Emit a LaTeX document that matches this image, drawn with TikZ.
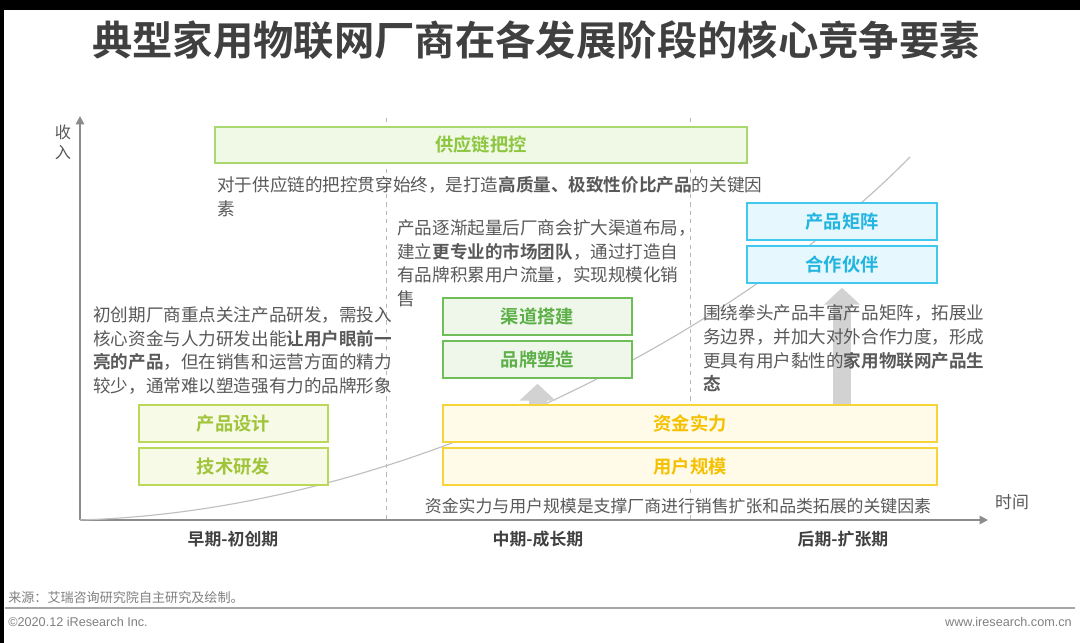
\documentclass[tikz,border=0pt]{standalone}
\usepackage{fontspec}
\setmainfont{Noto Sans CJK SC}[BoldFont={Noto Sans CJK SC Bold}]
\newfontfamily\latinfont{Liberation Sans}
\usetikzlibrary{arrows.meta, positioning, calc}
\definecolor{titlegray}{RGB}{64,64,64}
\definecolor{bodygray}{RGB}{89,89,89}
\definecolor{axisgray}{RGB}{140,140,140}
\definecolor{liftgray}{RGB}{210,210,210}
\definecolor{limeline}{RGB}{168,216,110}
\definecolor{limesoft}{RGB}{240,248,230}
\definecolor{limetext}{RGB}{141,198,63}
\definecolor{leafline}{RGB}{112,190,90}
\definecolor{leafsoft}{RGB}{238,247,234}
\definecolor{leaftext}{RGB}{93,175,72}
\definecolor{oliveline}{RGB}{188,216,90}
\definecolor{olivesoft}{RGB}{246,250,230}
\definecolor{olivetext}{RGB}{160,196,58}
\definecolor{goldline}{RGB}{247,212,58}
\definecolor{goldsoft}{RGB}{255,251,232}
\definecolor{goldtext}{RGB}{245,192,0}
\definecolor{skyline}{RGB}{64,200,238}
\definecolor{skysoft}{RGB}{230,247,253}
\definecolor{skytext}{RGB}{34,181,224}

\begin{document}
\begin{tikzpicture}[x=0.025cm, y=-0.025cm,
  box/.style={rectangle, line width=1.1pt, align=center, inner sep=0pt,
              font=\fontsize{13}{15}\selectfont\bfseries, minimum height=0.925cm},
  limebox/.style={box, draw=limeline, fill=limesoft, text=limetext},
  leafbox/.style={box, draw=leafline, fill=leafsoft, text=leaftext, minimum width=4.725cm},
  olivebox/.style={box, draw=oliveline, fill=olivesoft, text=olivetext, minimum width=4.725cm},
  goldbox/.style={box, draw=goldline, fill=goldsoft, text=goldtext, minimum width=12.35cm},
  skybox/.style={box, draw=skyline, fill=skysoft, text=skytext, minimum width=4.75cm},
  note/.style={anchor=north west, align=left, inner sep=0pt, text=bodygray,
               font=\fontsize{12.5}{17}\selectfont},
  stage/.style={font=\fontsize{12}{14}\selectfont\bfseries, text=titlegray},
  lift/.style={draw=liftgray, line width=0.45cm,
               -{Triangle[length=0.42cm, width=0.88cm]}},
  axis/.style={draw=axisgray, line width=1.3pt, -{Triangle[length=6pt, width=6pt]}},
  divider/.style={draw=gray!55, dashed, line width=0.6pt}
]
  \useasboundingbox (0,0) rectangle (1080,643);
  \fill[white] (0,0) rectangle (1080,643);
  \fill[black] (0,0) rectangle (1080,10);
  \fill[black] (0,0) rectangle (4,643);

  % Title
  \node[font=\fontsize{28.7}{32}\selectfont\bfseries, text=titlegray] (title)
    at (536,40) {典型家用物联网厂商在各发展阶段的核心竞争要素};

  % Axes and stage dividers
  \coordinate (o) at (80,520);
  \coordinate (ytop) at (80,116);
  \coordinate (xend) at (988,520);
  \draw[divider] (386,118) -- (386,520);
  \draw[divider] (690,118) -- (690,520);
  \draw[axis] (o) -- (ytop);
  \draw[axis] (o) -- (xend);
  \node[font=\fontsize{11.5}{14}\selectfont, text=bodygray, align=center] (yname)
    at (63,142) {收\\入};
  \node[font=\fontsize{12}{14}\selectfont, text=bodygray] (xname) at (1012,502) {时间};

  % Revenue curve
  \draw[gray!50, line width=0.8pt] (o) .. controls (420,510) and (750,320) .. (910,157);

  % Boxes
  \node[limebox, minimum width=13.3cm, minimum height=0.9cm] (supply) at (481,145) {供应链把控};
  \node[olivebox] (design) at (233.5,423.5) {产品设计};
  \node[olivebox] (research) at (233.5,466.5) {技术研发};
  \node[leafbox] (channel) at (537.5,316.5) {渠道搭建};
  \node[leafbox] (brand) at (537.5,359.5) {品牌塑造};
  \node[goldbox] (fund) at (690,423.5) {资金实力};
  \node[goldbox] (users) at (690,466.5) {用户规模};
  \node[skybox] (matrix) at (842,221.5) {产品矩阵};
  \node[skybox] (partner) at (842,264.5) {合作伙伴};

  % Lift arrows
  \draw[lift] (fund.north -| brand.south) -- ([yshift=-0.125cm]brand.south);
  \draw[lift] (fund.north -| partner.south) -- ([yshift=-0.1cm]partner.south);

  % Notes
  \node[note] (supplynote) at (217,176)
    {对于供应链的把控贯穿始终，是打造\textbf{高质量、极致性价比产品}的关键因\\素};
  \node[note] (earlynote) at (93,306)
    {初创期厂商重点关注产品研发，需投入\\
     核心资金与人力研发出能\textbf{让用户眼前一}\\
     \textbf{亮的产品}，但在销售和运营方面的精力\\
     较少，通常难以塑造强有力的品牌形象};
  \node[note] (growthnote) at (397,219)
    {产品逐渐起量后厂商会扩大渠道布局，\\
     建立\textbf{更专业的市场团队}，通过打造自\\
     有品牌积累用户流量，实现规模化销\\
     售};
  \node[note, anchor=center, font=\fontsize{12}{14}\selectfont] (basenote)
    at (678,506) {资金实力与用户规模是支撑厂商进行销售扩张和品类拓展的关键因素};
  \node[note] (expandnote) at (703,304)
    {围绕拳头产品丰富产品矩阵，拓展业\\
     务边界，并加大对外合作力度，形成\\
     更具有用户黏性的\textbf{家用物联网产品生}\\
     \textbf{态}};

  % Stage labels
  \node[stage] (early) at (233,539) {早期-初创期};
  \node[stage] (growth) at (538,539) {中期-成长期};
  \node[stage] (expand) at (843,539) {后期-扩张期};

  % Footer
  \node[anchor=west, inner sep=0pt, text=gray, font=\fontsize{9.3}{11}\selectfont]
    (source) at (8,598) {来源：艾瑞咨询研究院自主研究及绘制。};
  \draw[gray!70, line width=1.4pt] (5,608) -- (1075,608);
  \node[anchor=west, inner sep=0pt, text=gray, font=\latinfont\fontsize{9}{11}\selectfont]
    (copy) at (8,622) {©2020.12 iResearch Inc.};
  \node[anchor=east, inner sep=0pt, text=gray, font=\latinfont\fontsize{9}{11}\selectfont]
    (site) at (1072,622) {www.iresearch.com.cn};
\end{tikzpicture}
\end{document}
